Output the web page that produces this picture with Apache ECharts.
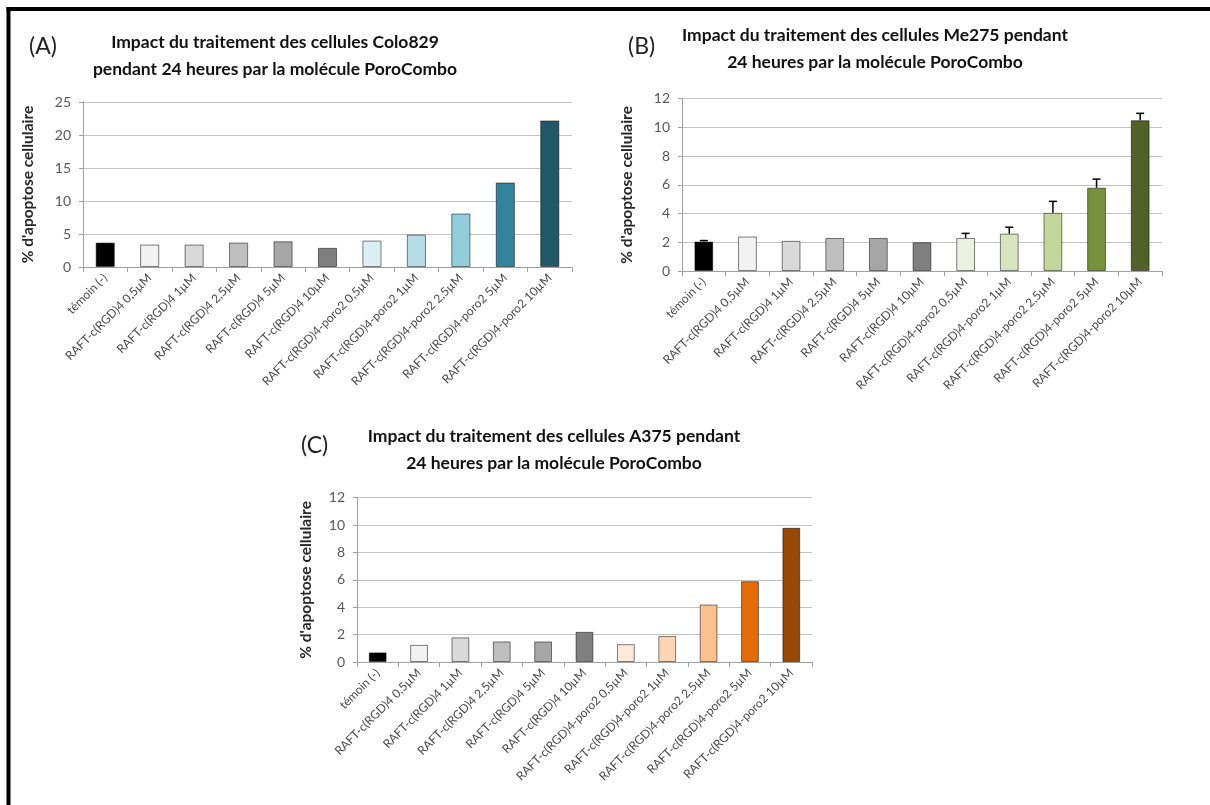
<!DOCTYPE html>
<html>
<head>
<meta charset="utf-8">
<script src="https://cdn.jsdelivr.net/npm/echarts@6/dist/echarts.min.js"></script>
<style>
html,body{margin:0;padding:0;background:#fff;}
#chart{width:1210px;height:805px;}
</style>
</head>
<body>
<div id="chart"></div>
<script>
// ---- data ----
const categories = [
  'témoin (-)',
  'RAFT-c(RGD)4 0,5µM',
  'RAFT-c(RGD)4 1µM',
  'RAFT-c(RGD)4 2,5µM',
  'RAFT-c(RGD)4 5µM',
  'RAFT-c(RGD)4 10µM',
  'RAFT-c(RGD)4-poro2 0,5µM',
  'RAFT-c(RGD)4-poro2 1µM',
  'RAFT-c(RGD)4-poro2 2,5µM',
  'RAFT-c(RGD)4-poro2 5µM',
  'RAFT-c(RGD)4-poro2 10µM'
];
const valuesA = [3.7, 3.4, 3.4, 3.7, 3.9, 2.9, 4.0, 4.9, 8.1, 12.8, 22.2];
const valuesB = [2.05, 2.4, 2.1, 2.3, 2.3, 2.0, 2.3, 2.6, 4.05, 5.8, 10.5];
const errorsB = [0.07, 0, 0, 0, 0, 0, 0.32, 0.45, 0.8, 0.6, 0.48];
const valuesC = [0.7, 1.25, 1.8, 1.5, 1.5, 2.2, 1.3, 1.9, 4.2, 5.9, 9.8];
const ticksA = [0, 5, 10, 15, 20, 25];
const ticksB = [0, 2, 4, 6, 8, 10, 12];
const ticksC = [0, 2, 4, 6, 8, 10, 12];
const yAxisName = "% d'apoptose cellulaire";
const titlesA = ['Impact du traitement des cellules Colo829', 'pendant 24 heures par la molécule PoroCombo'];
const titlesB = ['Impact du traitement des cellules Me275 pendant', '24 heures par la molécule PoroCombo'];
const titlesC = ['Impact du traitement des cellules A375 pendant', '24 heures par la molécule PoroCombo'];
const panelLabels = ['(A)', '(B)', '(C)'];

// ---- styles ----
const grays = ['#000000', '#f2f2f2', '#d9d9d9', '#bfbfbf', '#a6a6a6', '#808080'];
const colorsA = grays.concat(['#daeef3', '#b7dde8', '#92cddc', '#31849b', '#215868']);
const colorsB = grays.concat(['#ebf1de', '#d7e4bd', '#c3d69b', '#76923c', '#4f6228']);
const colorsC = grays.concat(['#fde9d9', '#fbd5b5', '#fac090', '#e36c09', '#974806']);

const FONT = 'Lato, "Open Sans", sans-serif';

const chart = echarts.init(document.getElementById('chart'), null, {renderer: 'canvas'});

const grids = [
  {left: 83, top: 102, width: 489, height: 165},
  {left: 682, top: 98.7, width: 480, height: 172.3},
  {left: 357, top: 497.7, width: 455, height: 164.3}
];
const tickSets = [ticksA, ticksB, ticksC];
const nameGaps = [47, 47, 43];

function xAxisFor(i) {
  return {
    type: 'category', gridIndex: i, data: categories,
    axisLine: {lineStyle: {color: '#a0a0a0', width: 1}},
    axisTick: {show: true, alignWithLabel: false, length: 5, lineStyle: {color: '#a0a0a0'}},
    axisLabel: {rotate: 45, interval: 0, fontSize: 12, color: '#4a4a4a', fontFamily: FONT, margin: 9}
  };
}
function yAxisFor(i) {
  const t = tickSets[i];
  return {
    type: 'value', gridIndex: i, min: t[0], max: t[t.length - 1], interval: t[1] - t[0],
    name: yAxisName, nameLocation: 'middle', nameGap: nameGaps[i], nameRotate: 90,
    nameTextStyle: {fontSize: 15.5, fontWeight: 'bold', color: '#262626', fontFamily: FONT},
    axisLine: {show: true, lineStyle: {color: '#a0a0a0', width: 1}},
    axisTick: {show: true, length: 4, lineStyle: {color: '#a0a0a0'}},
    axisLabel: {fontSize: 14, color: '#595959', fontFamily: FONT, margin: 12},
    splitLine: {show: true, lineStyle: {color: '#c2c2c2', width: 1}}
  };
}
function barSeries(i, vals, colors) {
  return {
    type: 'bar', xAxisIndex: i, yAxisIndex: i, barWidth: '43%',
    data: vals.map((v, k) => ({value: v, itemStyle: {color: colors[k]}})),
    itemStyle: {borderColor: 'rgba(0,0,0,0.5)', borderWidth: 1},
    emphasis: {disabled: true}, animation: false
  };
}

const titleStyle = {fontSize: 17.5, fontWeight: 'bold', color: '#111', fontFamily: FONT, lineHeight: 27};
const panelStyle = {fontSize: 23, fontWeight: 'normal', color: '#222', fontFamily: FONT};

chart.setOption({
  backgroundColor: '#ffffff',
  animation: false,
  textStyle: {fontFamily: FONT},
  title: [
    {text: titlesA.join('\n'), left: 270, top: 24, textAlign: 'center', textStyle: titleStyle},
    {text: titlesB.join('\n'), left: 870, top: 17, textAlign: 'center', textStyle: titleStyle},
    {text: titlesC.join('\n'), left: 549, top: 418, textAlign: 'center', textStyle: titleStyle},
    {text: panelLabels[0], left: 24, top: 30, textStyle: panelStyle},
    {text: panelLabels[1], left: 623, top: 30, textStyle: panelStyle},
    {text: panelLabels[2], left: 296, top: 429, textStyle: panelStyle}
  ],
  graphic: [
    {type: 'rect', shape: {x: 6.5, y: 7, width: 4, height: 800}, style: {fill: '#000'}, z: 100},
    {type: 'rect', shape: {x: 6.5, y: 7, width: 1205, height: 4}, style: {fill: '#000'}, z: 100}
  ],
  grid: grids,
  xAxis: [xAxisFor(0), xAxisFor(1), xAxisFor(2)],
  yAxis: [yAxisFor(0), yAxisFor(1), yAxisFor(2)],
  series: [
    barSeries(0, valuesA, colorsA),
    barSeries(1, valuesB, colorsB),
    barSeries(2, valuesC, colorsC),
    {
      type: 'custom', xAxisIndex: 1, yAxisIndex: 1, z: 10,
      data: categories.map((c, k) => [k, valuesB[k], errorsB[k]]),
      renderItem: function (params, api) {
        const x = api.value(0), y = api.value(1), e = api.value(2);
        if (!e) return null;
        const base = api.coord([x, y]);
        const top = api.coord([x, y + e]);
        const half = 4;
        const st = {stroke: '#000', lineWidth: 1.5};
        return {
          type: 'group',
          children: [
            {type: 'line', shape: {x1: base[0], y1: base[1], x2: top[0], y2: top[1]}, style: st},
            {type: 'line', shape: {x1: top[0] - half, y1: top[1], x2: top[0] + half, y2: top[1]}, style: st}
          ]
        };
      }
    }
  ]
});
</script>
</body>
</html>
